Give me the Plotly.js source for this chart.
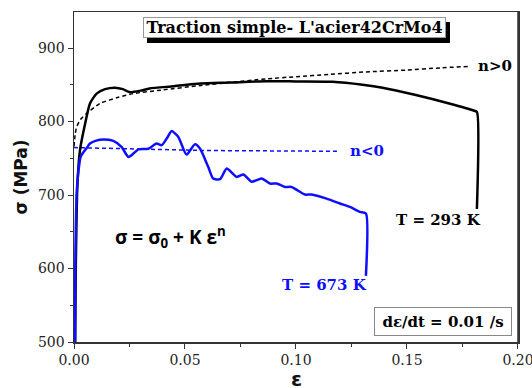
<!DOCTYPE html>
<html>
<head>
<meta charset="utf-8">
<script src="https://cdn.plot.ly/plotly-3.0.1.min.js"></script>
<style>html,body{margin:0;padding:0;background:#fff;}#chart{width:532px;height:388px;}</style>
</head>
<body>
<div id="chart"></div>
<script>
// T = 293 K measured curve
const strain293 = [0.0005,0.0008,0.0015,0.0027,0.005,0.0072,0.0102,0.014,0.0185,0.022,0.025,0.03,0.034,0.045,0.057,0.07,0.0865,0.1,0.1165,0.13,0.139,0.154,0.169,0.180,0.1815,0.1815];
const stress293 = [500,600,711,761,797,824.5,838,844,846,844,840,842,845,848,851.7,853,854.8,854.5,854,850,846,836,824.5,815,813,681];

// T = 673 K measured curve
const strain673 = [0.0005,0.0006,0.0008,0.0012,0.0019,0.003,0.0042,0.0055,0.0072,0.01,0.0132,0.0177,0.0214,0.0245,0.027,0.029,0.0335,0.0372,0.0395,0.042,0.044,0.047,0.0507,0.0545,0.0568,0.0605,0.0627,0.0658,0.0688,0.0733,0.0763,0.08,0.0845,0.0883,0.0913,0.095,0.098,0.104,0.107,0.1138,0.1198,0.1243,0.1288,0.1315,0.1315];
const stress673 = [500,600,652,702,730,752,758,763,770,774,775.5,773.6,765.5,751.8,757,762,763,770,767.8,778,787,779,755,769,763,738,722.4,721.5,736,724.6,728,718,722.4,715.6,715.6,711,711,700.6,700.6,695,688.4,683.8,677,674.8,590];

// fit n>0 (dashed black)
const strainFitPos = [0,0.0005,0.0012,0.003,0.0057,0.0117,0.02,0.0267,0.04,0.057,0.07,0.0865,0.1,0.115,0.1315,0.15,0.165,0.178];
const stressFitPos = [766,782,792.7,803,811,824.5,833,838,843,849,853,858,861,864,867.5,870,873,875];

// fit n<0 (dashed blue)
const strainFitNeg = [0,0.03,0.06,0.09,0.1195];
const stressFitNeg = [764.5,762,760.5,760,759.5];

// axis ticks
const xTickVals = [0,0.05,0.1,0.15,0.2];
const xTickText = ['0.00','0.05','0.10','0.15','0.20'];
const xMinorVals = [0.025,0.075,0.125,0.175];

const BLUE = '#0f0fff';
const traces = [
  {x: strainFitPos, y: stressFitPos, mode:'lines', line:{color:'#000', width:1.5, dash:'4px,3px', shape:'spline', smoothing:0.6}, hoverinfo:'skip'},
  {x: strainFitNeg, y: stressFitNeg, mode:'lines', line:{color:BLUE, width:1.5, dash:'4px,3px'}, hoverinfo:'skip'},
  {x: strain293, y: stress293, mode:'lines', line:{color:'#000', width:2.5, shape:'spline', smoothing:0.6}},
  {x: strain673, y: stress673, mode:'lines', line:{color:BLUE, width:2.5, shape:'spline', smoothing:0.6}}
];

const tickFont = {family:'DejaVu Serif', size:14, color:'#222'};
const boldSerif = 'DejaVu Serif';
const titleText = "<b>Traction simple- L'acier42CrMo4</b>";

const layout = {
  width:532, height:388,
  margin:{l:74, r:14, t:12, b:46},
  paper_bgcolor:'#fff', plot_bgcolor:'#fff',
  showlegend:false,
  xaxis:{
    range:[0,0.20001], tickvals:xTickVals, ticktext:xTickText, ticklabeloverflow:'allow',
    showline:true, linecolor:'#333', linewidth:1.5, mirror:true,
    ticks:'outside', ticklen:5, tickcolor:'#333', tickwidth:1,
    minor:{tickvals:xMinorVals, ticks:'outside', ticklen:3, tickcolor:'#333'},
    showgrid:false, zeroline:false, tickfont:tickFont
  },
  yaxis:{
    range:[500,949], dtick:100, ticklabeloverflow:'allow',
    showline:true, linecolor:'#333', linewidth:1.5, mirror:true,
    ticks:'outside', ticklen:5, tickcolor:'#333', tickwidth:1,
    minor:{dtick:50, ticks:'outside', ticklen:3, tickcolor:'#333'},
    showgrid:false, zeroline:false, tickfont:tickFont,
    title:{text:'<b>σ (MPa)</b>', font:{family:'DejaVu Sans', size:17, color:'#111'}, standoff:6}
  },
  shapes:[
    {type:'line', xref:'paper', yref:'paper', x0:1, x1:1, y0:0, y1:1, line:{color:'#333', width:1.5}}
  ],
  annotations:[
    {xref:'paper', yref:'paper', x:0.5, y:-0.112, xanchor:'center', yanchor:'middle', text:'<b>ε</b>', showarrow:false,
     font:{family:'DejaVu Sans', size:20, color:'#111'}},
    {xref:'paper', yref:'paper', x:0.4966, y:0.9545, xanchor:'center', yanchor:'middle', text:titleText, showarrow:false,
     font:{family:boldSerif, size:16, color:'#000'}, bgcolor:'#000', bordercolor:'#000', borderwidth:1,
     width:301, height:19, borderpad:0, xshift:4, yshift:-5},
    {xref:'paper', yref:'paper', x:0.4966, y:0.9545, xanchor:'center', yanchor:'middle', text:titleText, showarrow:false,
     font:{family:boldSerif, size:16, color:'#000'}, bgcolor:'#fff', bordercolor:'#999', borderwidth:1,
     width:301, height:19, borderpad:0},
    {xref:'x', yref:'y', x:0.181, y:875, text:'<b>n>0</b>', showarrow:false, xanchor:'left',
     font:{family:boldSerif, size:15, color:'#000'}},
    {xref:'x', yref:'y', x:0.1235, y:760, text:'<b>n<0</b>', showarrow:false, xanchor:'left',
     font:{family:boldSerif, size:15, color:BLUE}},
    {xref:'x', yref:'y', x:0.164, y:665.7, text:'<b>T = 293 K</b>', showarrow:false,
     font:{family:boldSerif, size:15, color:'#000'}},
    {xref:'x', yref:'y', x:0.113, y:577, text:'<b>T = 673 K</b>', showarrow:false,
     font:{family:boldSerif, size:15, color:BLUE}},
    {xref:'x', yref:'y', x:0.0435, y:643, text:'<b>σ = σ<sub>0</sub> + K ε<sup>n</sup></b>', showarrow:false,
     font:{family:'Open Sans', size:19, color:'#000'}},
    {xref:'paper', yref:'paper', x:0.831, y:0.062, xanchor:'center', yanchor:'middle', text:'<b>dε/dt = 0.01 /s</b>', showarrow:false,
     font:{family:boldSerif, size:15, color:'#000'}, bgcolor:'#fff', bordercolor:'#888', borderwidth:1,
     width:134, height:25, borderpad:1}
  ]
};

Plotly.newPlot('chart', traces, layout, {displayModeBar:false, staticPlot:true});
</script>
</body>
</html>
